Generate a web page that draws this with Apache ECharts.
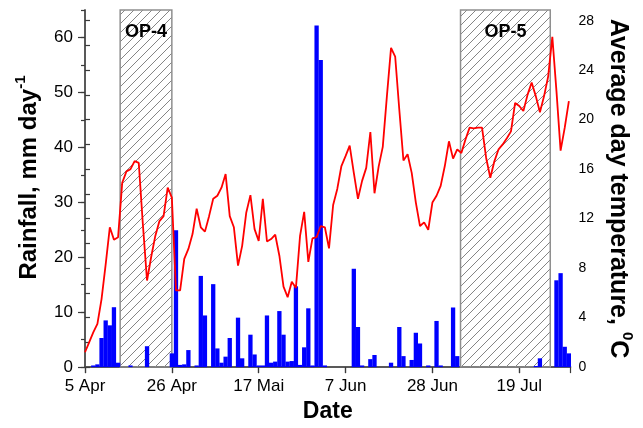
<!DOCTYPE html>
<html><head><meta charset="utf-8">
<script src="https://cdn.jsdelivr.net/npm/echarts@6/dist/echarts.min.js"></script>
<style>html,body{margin:0;padding:0;background:#fff}#c{width:643px;height:428px}</style>
</head><body><div id="c"></div>
<script>
// day index 0 = 5 Apr
const tickLabels = ['5 Apr','26 Apr','17 Mai','7 Jun','28 Jun','19 Jul'];
const rainfall = [
 0,0,0.3,0.5,5.3,8.5,7.6,10.9,0.8,0,
 0,0.3,0,0,0,3.8,0,0,0,0,
 0,2.5,24.9,0.4,0.5,3.1,0,0.3,16.6,9.4,
 0,15.1,3.4,0.8,1.9,5.3,0,9.0,1.6,0,
 5.9,2.3,0.3,0.3,9.4,0.8,1.0,10.2,5.9,1.0,
 1.1,14.7,0.4,3.6,10.7,0.3,62.2,55.9,0.3,0,
 0,0,0,0,0,17.9,7.3,0.3,0,1.45,
 2.2,0,0,0,0.8,0,7.3,2.0,0,1.3,
 6.25,4.3,0,0.3,0,8.4,0.3,0,0,10.85,
 2.0,0,0,0,0,0,0,0,0,0,
 0,0,0,0,0,0,0,0,0,0.2,
 1.6,0,0,0,15.8,17.1,3.7,2.5
];
const temperature = [
 1.2,2.0,2.8,3.5,5.5,8.3,11.3,10.3,10.5,14.9,
 15.8,16.0,16.65,16.5,11.5,7.0,8.9,10.6,11.8,12.2,
 14.5,13.7,6.2,6.2,8.75,9.55,10.75,12.8,11.3,10.95,
 12.2,13.6,13.85,14.5,15.6,12.2,11.3,8.2,9.8,12.5,
 13.9,11.15,10.2,13.6,10.15,10.35,10.7,9.0,6.5,5.65,
 6.9,6.4,10.6,12.55,8.5,10.4,10.5,11.4,11.3,9.6,
 13.1,14.4,16.25,17.05,17.9,15.7,13.6,15.05,16.1,19.0,
 14.05,16.2,17.8,21.9,25.8,25.1,20.8,16.7,17.2,15.7,
 13.3,11.4,11.7,11.1,13.3,13.85,14.65,16.25,18.25,16.85,
 17.6,17.3,18.4,19.35,19.3,19.35,19.35,16.9,15.3,16.65,
 17.6,18.0,18.5,19.05,21.35,21.1,20.7,22.0,23.0,21.9,
 20.6,21.9,23.5,26.7,22.3,17.5,19.35,21.5
];
const periods = [
 {name:'OP-4', from:8.5, to:21},
 {name:'OP-5', from:90.8, to:112.5}
];
const xMax = 117.4, rainMax = 65, tempMax = 28.86;

function hatch(){
  const s=9,c=document.createElement('canvas');c.width=s;c.height=s;
  const g=c.getContext('2d');g.strokeStyle='#858585';g.lineWidth=1;
  g.beginPath();g.moveTo(0,s);g.lineTo(s,0);
  g.moveTo(-1,1);g.lineTo(1,-1);g.moveTo(s-1,s+1);g.lineTo(s+1,s-1);g.stroke();
  return c;
}
const FF = "'Liberation Sans', Arial, sans-serif";
const axisCol = '#3a3a3a';
const chart = echarts.init(document.getElementById('c'));
chart.setOption({
  animation:false,
  textStyle:{fontFamily:FF},
  grid:{left:85,right:71,top:10,bottom:59},
  xAxis:[
    {type:'value',min:0,max:xMax,interval:21,position:'bottom',
     name:'Date',nameLocation:'middle',nameGap:31,
     nameTextStyle:{fontSize:23,fontWeight:'bold',color:'#000',fontFamily:FF},
     axisLine:{show:true,lineStyle:{color:axisCol,width:1.5}},
     axisTick:{show:true,length:6,inside:false,lineStyle:{color:axisCol,width:1.2}},
     axisLabel:{margin:11,fontSize:17,color:'#000',fontFamily:FF,showMaxLabel:false,
       formatter:v=>{const i=v/21;return (Number.isInteger(i)&&i<tickLabels.length)?tickLabels[i]:'';}},
     splitLine:{show:false}},
    {type:'value',min:0,max:xMax,interval:21,position:'top',
     axisLine:{show:true,lineStyle:{color:'#555',width:1.5}},
     axisTick:{show:true,length:6,inside:true,lineStyle:{color:axisCol,width:1.2}},
     axisLabel:{show:false},splitLine:{show:false}}
  ],
  yAxis:[
    {type:'value',min:0,max:rainMax,interval:10,position:'left',
     name:'{a|Rainfall, mm day}{s|-1}',nameLocation:'middle',nameGap:44,nameRotate:90,
     nameTextStyle:{padding:[0,0,0,22],rich:{
       a:{fontSize:24,fontWeight:'bold',color:'#000',fontFamily:FF,verticalAlign:'bottom',lineHeight:28},
       s:{fontSize:15,fontWeight:'bold',color:'#000',fontFamily:FF,verticalAlign:'top',lineHeight:28}}},
     axisLine:{show:true,lineStyle:{color:axisCol,width:1.5}},
     axisTick:{show:true,length:7,lineStyle:{color:axisCol,width:1.2}},
     axisLabel:{margin:12,fontSize:17,color:'#000',fontFamily:FF,showMaxLabel:false,
       formatter:v=>(v%10===0?String(v):'')},
     splitLine:{show:false}},
    {type:'value',min:0,max:tempMax,interval:2,position:'right',
     name:'{a|Average day temperature, }{s|0}{a|C}',nameLocation:'middle',nameGap:33,nameRotate:-90,
     nameTextStyle:{rich:{
       a:{fontSize:25,fontWeight:'bold',color:'#000',fontFamily:FF,verticalAlign:'bottom',lineHeight:30},
       s:{fontSize:15,fontWeight:'bold',color:'#000',fontFamily:FF,verticalAlign:'top',lineHeight:30}}},
     axisLine:{show:true,lineStyle:{color:'#555',width:1.5}},
     axisTick:{show:true,length:5,lineStyle:{color:axisCol,width:1.2}},
     axisLabel:{margin:8,fontSize:14,color:'#000',fontFamily:FF,showMaxLabel:false,
       formatter:v=>(Number.isInteger(v)&&v%4===0?String(v):'')},
     splitLine:{show:false}},
    {type:'value',min:0,max:rainMax,interval:5,position:'left',
     axisLine:{show:false},
     axisTick:{show:true,length:4,lineStyle:{color:axisCol,width:1.2}},
     axisLabel:{show:false},splitLine:{show:false}}
  ],
  series:[
    {type:'bar',xAxisIndex:0,yAxisIndex:0,z:3,barWidth:4.3,
     itemStyle:{color:'#0000ff'},
     data:rainfall.map((v,i)=>[i,v]),
     markArea:{silent:true,
       itemStyle:{color:{image:hatch(),repeat:'repeat'},borderColor:'#8f8f8f',borderWidth:1.5},
       label:{show:true,position:'insideTop',distance:14,formatter:'{b}',
         fontSize:18,fontWeight:'bold',color:'#000',fontFamily:FF},
       data:periods.map(p=>[{xAxis:p.from,name:p.name},{xAxis:p.to}])}},
    {type:'line',xAxisIndex:0,yAxisIndex:1,z:4,showSymbol:false,
     lineStyle:{color:'#ff0000',width:1.8},itemStyle:{color:'#ff0000'},
     data:temperature.map((v,i)=>[i,v])}
  ]
});
</script></body></html>
